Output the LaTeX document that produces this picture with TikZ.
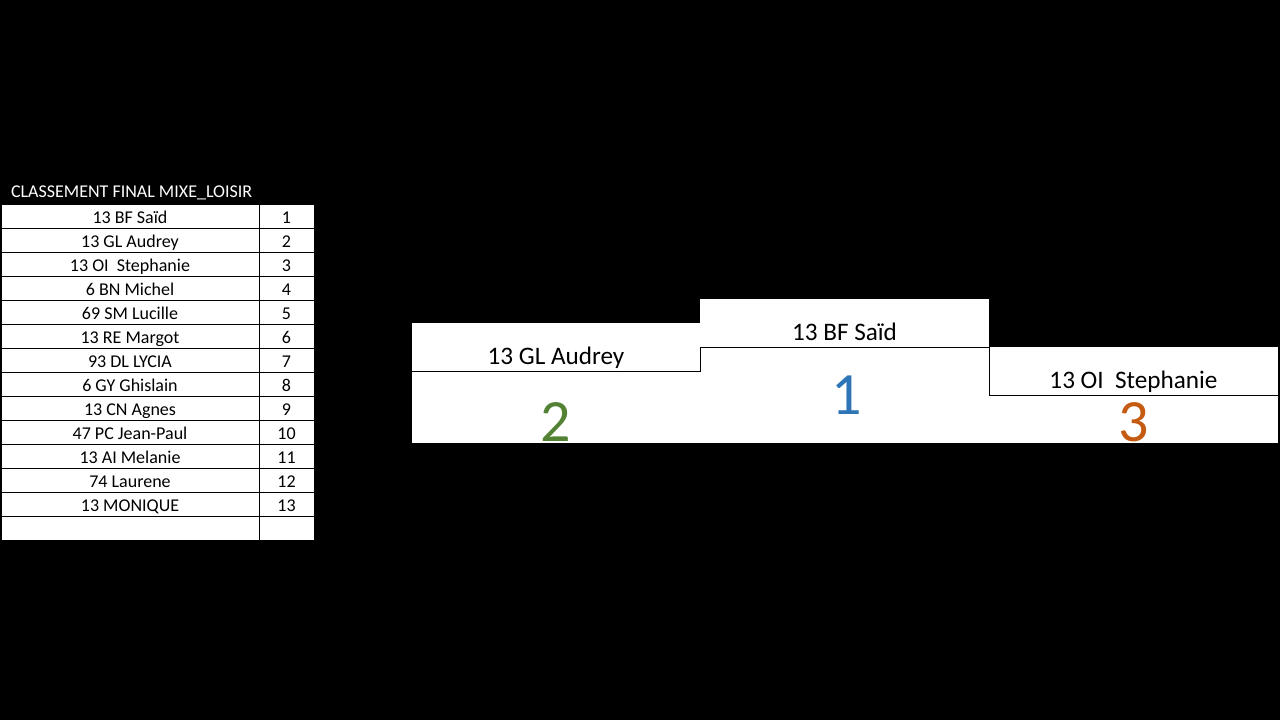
\documentclass[tikz,border=0pt]{standalone}
\usepackage{fontspec}
\setmainfont{Carlito}
\usetikzlibrary{positioning}
\definecolor{rankgreen}{HTML}{548235}
\definecolor{rankblue}{HTML}{2E75B6}
\definecolor{rankorange}{HTML}{C55A11}
\begin{document}
\begin{tikzpicture}[x = 1pt, y = -1pt, outer sep = 0pt, node distance = 0pt,
    cell/.style = {draw = black, fill = white, line width = 0.8pt, minimum height = 24pt,
        inner sep = 0pt, text height = 14pt, text depth = 0pt, font = \fontsize{18}{21}\selectfont},
    block/.style = {fill = white, inner sep = 0pt, minimum width = 289pt},
    podname/.style = {anchor = base, inner sep = 0pt, font = \fontsize{25.2}{30}\selectfont},
    podrank/.style = {anchor = base, inner sep = 0pt, font = \fontsize{60}{70}\selectfont}]
    % page
    \fill [black] (0, 0) rectangle (1280, 720);
    \useasboundingbox (0, 0) rectangle (1280, 720);

    % table
    \node [anchor = base west, inner sep = 0pt, text = white, font = \fontsize{18}{21}\selectfont] (title) at (11, 197) {CLASSEMENT FINAL MIXE\_LOISIR};
    \foreach \who/\pos [count = \i from 0, evaluate = \i as \y using 216 + 24*\i] in
        {13 BF Saïd/1, 13 GL Audrey/2, 13 OI~ Stephanie/3, 6 BN Michel/4, 69 SM Lucille/5,
         13 RE Margot/6, 93 DL LYCIA/7, 6 GY Ghislain/8, 13 CN Agnes/9, 47 PC Jean-Paul/10,
         13 AI Melanie/11, 74 Laurene/12, 13 MONIQUE/13} {
        \node [cell, minimum width = 258pt] (who\i) at (130, \y) {\who};
        \node [cell, minimum width = 55pt, right = of who\i] (pos\i) {\pos};
    }
    \node [cell, minimum width = 258pt] (who13) at (130, 528) {};
    \node [cell, minimum width = 55pt, right = of who13] (pos13) {};

    % podium
    \node [block, minimum width = 288pt, minimum height = 48pt] (band2) at (556, 347) {};
    \node [block, minimum height = 48pt] (band1) at (844.5, 323) {};
    \node [block, minimum height = 48pt] (band3) at (1133.5, 371) {};
    \node [block, minimum width = 288pt, minimum height = 72pt] (base2) at (556, 407) {};
    \node [block, minimum height = 96pt] (base1) at (844.5, 395) {};
    \node [block, minimum height = 48pt] (base3) at (1133.5, 419) {};
    \draw [line width = 0.8pt] (band2.south west) -- (band2.south east) -- (band1.south west)
        -- (band1.south east) -- (band3.south west) -- (band3.south east);

    \node [podname] (name2) at (556, 364) {13 GL Audrey};
    \node [podname] (name1) at (844.5, 340) {13 BF Saïd};
    \node [podname] (name3) at (1133.5, 388) {13 OI~ Stephanie};
    \node [podrank, text = rankgreen] (rank2) at (556, 441) {2};
    \node [podrank, text = rankblue] (rank1) at (846.5, 414) {1};
    \node [podrank, text = rankorange] (rank3) at (1133.5, 441) {3};
\end{tikzpicture}
\end{document}
